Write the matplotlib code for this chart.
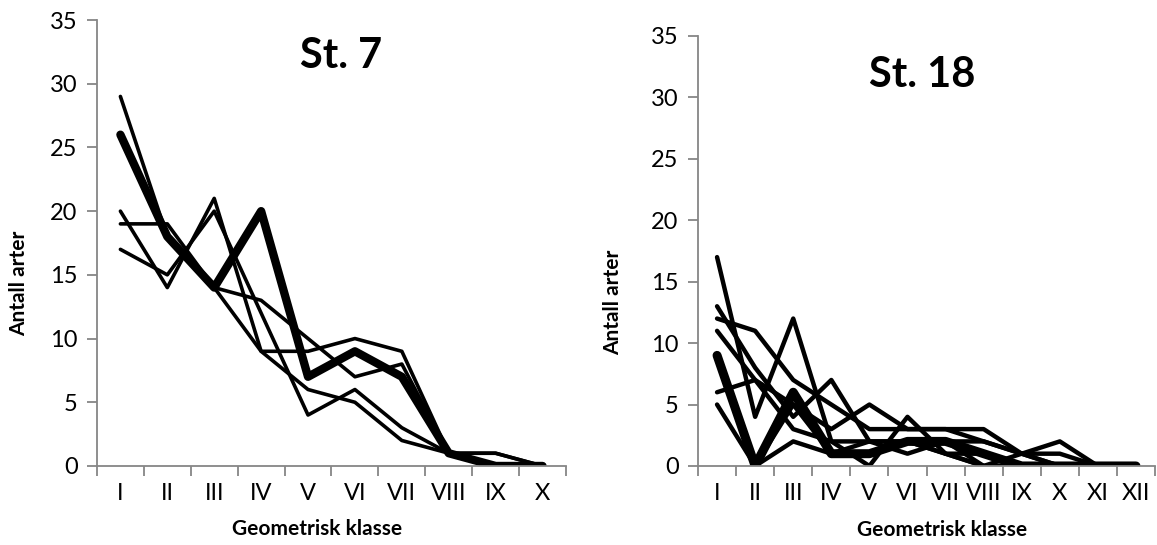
import numpy as np
import matplotlib
matplotlib.use("Agg")
import matplotlib.pyplot as plt

plt.rcParams['font.family'] = ['Lato', 'DejaVu Sans']

# St. 7 - ten geometric classes
klasser7 = ['I', 'II', 'III', 'IV', 'V', 'VI', 'VII', 'VIII', 'IX', 'X']
st7_tykk = [26, 18, 14, 20, 7, 9, 7, 1, 0, 0]
st7_a = [29, 18, 14, 13, 10, 7, 8, 1, 0, 0]
st7_b = [19, 19, 14, 9, 9, 10, 9, 1, 1, 0]
st7_c = [20, 14, 21, 9, 6, 5, 2, 1, 0, 0]
st7_d = [17, 15, 20, 12, 4, 6, 3, 1, 1, 0]
st7_tynne = [st7_a, st7_b, st7_c, st7_d]

# St. 18 - twelve geometric classes
klasser18 = ['I', 'II', 'III', 'IV', 'V', 'VI', 'VII', 'VIII', 'IX', 'X', 'XI', 'XII']
st18_tykk = [9, 0, 6, 1, 1, 2, 2, 1, 0, 0, 0, 0]
st18_a = [17, 4, 12, 2, 2, 2, 2, 2, 1, 1, 0, 0]
st18_b = [13, 8, 4, 7, 2, 2, 1, 1, 0, 0, 0, 0]
st18_c = [12, 11, 7, 5, 3, 3, 3, 2, 1, 2, 0, 0]
st18_d = [11, 7, 5, 3, 5, 3, 3, 3, 1, 0, 0, 0]
st18_e = [6, 7, 3, 2, 0, 4, 1, 0, 0, 0, 0, 0]
st18_f = [5, 0, 2, 1, 1, 2, 1, 0, 0, 0, 0, 0]
st18_g = [9, 0, 5, 1, 2, 1, 2, 0, 1, 0, 0, 0]
st18_tynne = [st18_a, st18_b, st18_c, st18_d, st18_e, st18_f, st18_g]

grey = '#868686'


def panel(ax, klasser, tynne, tykk, tittel, lw_thin, lw_thick, title_xy,
          ylab_xy, xlab_xy):
    x = np.arange(len(klasser))
    for serie in tynne:
        ax.plot(x, serie, color='black', lw=lw_thin,
                solid_joinstyle='round', solid_capstyle='round')
    ax.plot(x, tykk, color='black', lw=lw_thick,
            solid_joinstyle='round', solid_capstyle='round')

    ax.set_xlim(-0.5, len(klasser) - 0.5)
    ax.set_ylim(0, 35)
    ax.set_yticks(range(0, 36, 5))
    ax.set_xticks(x)
    ax.set_xticklabels(klasser)
    ax.set_xticks(np.arange(-0.5, len(klasser), 1), minor=True)

    for s in ['top', 'right']:
        ax.spines[s].set_visible(False)
    for s in ['left', 'bottom']:
        ax.spines[s].set_color(grey)
        ax.spines[s].set_linewidth(1.3)
    ax.tick_params(axis='y', colors=grey, labelcolor='black', length=7,
                   width=1.3, labelsize=17, pad=7)
    ax.tick_params(axis='x', which='major', length=0, labelsize=17, pad=12)
    ax.tick_params(axis='x', which='minor', colors=grey, length=7, width=1.3)

    ax.set_ylabel('Antall arter', fontsize=15, fontweight='bold')
    ax.set_xlabel('Geometrisk klasse', fontsize=15, fontweight='bold')
    ax.yaxis.set_label_coords(*ylab_xy)
    ax.xaxis.set_label_coords(*xlab_xy)
    ax.text(title_xy[0], title_xy[1], tittel, transform=ax.transAxes,
            fontsize=30, fontweight='bold', ha='center', va='center')


fig = plt.figure(figsize=(11.57, 5.45), dpi=100)
ax1 = fig.add_axes([0.0838, 0.1450, 0.4054, 0.8183])
ax2 = fig.add_axes([0.6033, 0.145, 0.395, 0.789])

panel(ax1, klasser7, st7_tynne, st7_tykk, 'St. 7', 2.6, 6.0, (0.52, 0.92),
      (-0.145, 0.41), (0.47, -0.12))
panel(ax2, klasser18, st18_tynne, st18_tykk, 'St. 18', 3.2, 6.5, (0.49, 0.91),
      (-0.165, 0.38), (0.535, -0.125))

fig.savefig('out.png', dpi=100, facecolor='white')
